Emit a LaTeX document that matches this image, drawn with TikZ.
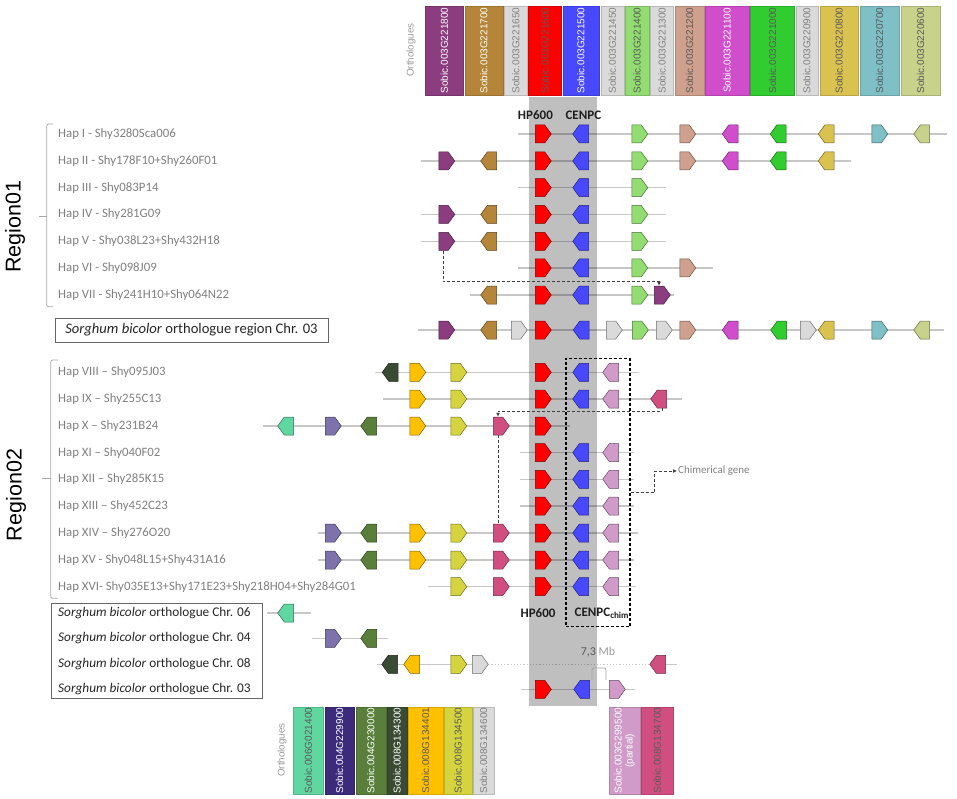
\documentclass[tikz,border=0pt]{standalone}
\usepackage{fontspec}
\setmainfont{Carlito}
\newfontfamily\arialf{Liberation Sans}
\usetikzlibrary{shapes.symbols,arrows.meta}
\definecolor{cPu}{HTML}{8B3D80}
\definecolor{cBr}{HTML}{B5853A}
\definecolor{cGy}{HTML}{DADADA}
\definecolor{cRd}{HTML}{FF0000}
\definecolor{cBl}{HTML}{4848FF}
\definecolor{cLg}{HTML}{93DC72}
\definecolor{cTn}{HTML}{CFA08D}
\definecolor{cMg}{HTML}{D04ECC}
\definecolor{cGn}{HTML}{30CC30}
\definecolor{cGd}{HTML}{DAC250}
\definecolor{cTl}{HTML}{7FBFC6}
\definecolor{cKh}{HTML}{C9D28A}
\definecolor{cMint}{HTML}{60D6A0}
\definecolor{cLav}{HTML}{7E72AC}
\definecolor{cLavLeg}{HTML}{3B2B7A}
\definecolor{cGf}{HTML}{5A7F3A}
\definecolor{cDkg}{HTML}{3A4B33}
\definecolor{cOr}{HTML}{FFC000}
\definecolor{cYg}{HTML}{D6D43E}
\definecolor{cPk}{HTML}{D09BC8}
\definecolor{cDp}{HTML}{D14F80}
\definecolor{cCol}{HTML}{BFBFBF}
\definecolor{txtD}{HTML}{5A5A5A}
\definecolor{txtG}{HTML}{808080}
\newcommand\gR[4]{\node[gene,signal to=east,fill=#1,draw=#1!50!black] (#2) at (#3,#4) {};}
\newcommand\gL[4]{\node[gene,signal to=west,fill=#1,draw=#1!50!black] (#2) at (#3,#4) {};}
\newcommand\legA{6}
\newcommand\legB{95}
\newcommand\leg[6]{\filldraw[fill=#4,draw=#4!85!black,line width=0.3pt] (#2,\legA) rectangle (#3,\legB);
  \node[legtxt,text=#5] (#1) at ({(#2+#3)/2},{(\legA+\legB)/2}) {#6};}
\begin{document}
\begin{tikzpicture}[x=1pt,y=-1pt,
  gene/.style={signal, signal pointer angle=108, minimum width=16pt, minimum height=18pt, inner sep=0pt, line width=0.5pt},
  bg/.style={line width=1.5pt, black, opacity=0.22},
  legtxt/.style={rotate=90, font=\arialf\fontsize{10}{11}\selectfont, inner sep=0pt, align=center},
  hap/.style={anchor=west, inner sep=0pt, text=txtG, font=\fontsize{12.8}{14}\selectfont},
  chrlab/.style={anchor=west, inner sep=0pt, text=black!85, font=\fontsize{13.3}{15}\selectfont},
  brk/.style={draw=black!35, line width=0.8pt, rounded corners=2pt},
  conn/.style={draw=black!75, line width=0.9pt, dash pattern=on 3pt off 2pt},
  tip/.style={-{Latex[length=4pt,width=4pt]}},
  hplab/.style={font=\bfseries\fontsize{13}{15}\selectfont, text=black!88, inner sep=0pt},
  reg/.style={rotate=90, font=\arialf\fontsize{21.5}{24}\selectfont, inner sep=0pt}]
\useasboundingbox (0,0) rectangle (957,799);
% ---------- shaded HP600/CENPC column ----------
\fill[cCol] (529,97) rectangle (597,706);
% ---------- top legend ----------
\node[rotate=90, font=\arialf\fontsize{9.8}{11}\selectfont, text=black!40, inner sep=0pt] (orthT) at (411,50) {Orthologues};
\leg{lt1}{425.6}{462.9}{cPu}{white}{Sobic.003G221800}
\leg{lt2}{464.7}{502.7}{cBr}{white}{Sobic.003G221700}
\leg{lt3}{504.1}{527.5}{cGy}{txtG}{Sobic.003G221650}
\leg{lt4}{528.6}{561.6}{cRd}{txtD}{Sobic.003G221600}
\leg{lt5}{562.7}{598.9}{cBl}{white}{Sobic.003G221500}
\leg{lt6}{600.7}{623.8}{cGy}{txtG}{Sobic.003G221450}
\leg{lt7}{625.2}{648.7}{cLg}{txtD}{Sobic.003G221400}
\leg{lt8}{650.4}{673.5}{cGy}{txtG}{Sobic.003G221300}
\leg{lt9}{675.3}{703.7}{cTn}{txtD}{Sobic.003G221200}
\leg{lt10}{705.5}{748.8}{cMg}{white}{Sobic.003G221100}
\leg{lt11}{750.6}{794.3}{cGn}{txtD}{Sobic.003G221000}
\leg{lt12}{795.7}{818.1}{cGy}{txtG}{Sobic.003G220900}
\leg{lt13}{819.9}{858.3}{cGd}{txtD}{Sobic.003G220800}
\leg{lt14}{860}{899.1}{cTl}{txtD}{Sobic.003G220700}
\leg{lt15}{900.9}{940}{cKh}{txtD}{Sobic.003G220600}
% ---------- bottom legend ----------
\renewcommand\legA{707.3}
\renewcommand\legB{794}
\node[rotate=90, font=\arialf\fontsize{9.8}{11}\selectfont, text=black!40, inner sep=0pt] (orthB) at (282,750) {Orthologues};
\leg{lb1}{293.3}{323.3}{cMint}{txtD}{Sobic.006G021400}
\leg{lb2}{325}{354.3}{cLavLeg}{white}{Sobic.004G229900}
\leg{lb3}{356}{385.7}{cGf}{white}{Sobic.004G230000}
\leg{lb4}{387.3}{406.7}{cDkg}{white}{Sobic.008G134300}
\leg{lb5}{408.3}{442.7}{cOr}{txtD}{Sobic.008G134401}
\leg{lb6}{444.3}{471.7}{cYg}{txtD}{Sobic.008G134500}
\leg{lb7}{473.3}{494}{cGy}{txtG}{Sobic.008G134600}
\leg{lb8}{609}{640}{cPk}{white}{Sobic.003G299500\\(partial)}
\leg{lb9}{641.3}{673.3}{cDp}{txtD}{Sobic.008G134700}
% ---------- backbone lines ----------
\draw[bg] (518,134) -- (947,134);
\draw[bg] (421,161) -- (851,161);
\draw[bg] (518,187.7) -- (666,187.7);
\draw[bg] (421,214.5) -- (666,214.5);
\draw[bg] (421,241.3) -- (666,241.3);
\draw[bg] (518,268) -- (713,268);
\draw[bg] (470,295) -- (674,295);
\draw[bg] (418,330) -- (944,330);
\draw[bg] (375,372.3) -- (639,372.3);
\draw[bg] (383,399) -- (682,399);
\draw[bg] (263,426) -- (570,426);
\draw[bg] (520,452.7) -- (634,452.7);
\draw[bg] (520,479.3) -- (634,479.3);
\draw[bg] (520,506) -- (634,506);
\draw[bg] (318,533) -- (638,533);
\draw[bg] (318,560) -- (634,560);
\draw[bg] (428,586.7) -- (636,586.7);
\draw[bg] (267,613) -- (311,613);
\draw[bg] (312,638.3) -- (388,638.3);
\draw[bg] (377,664.3) -- (485,664.3);
\draw[bg, line width=1.2pt, dash pattern=on 1.2pt off 2pt] (485,664.3) -- (653,664.3);
\draw[bg] (653,664.3) -- (677,664.3);
\draw[bg] (521,689.3) -- (635,689.3);
% ---------- Region01 genes ----------
% Hap I
\gR{cRd}{a1rd}{540}{134}\gL{cBl}{a1bl}{584}{134}\gR{cLg}{a1lg}{636.5}{134}\gR{cTn}{a1tn}{684.5}{134}
\gL{cMg}{a1mg}{733.5}{134}\gL{cGn}{a1gn}{781.5}{134}\gL{cGd}{a1gd}{829.5}{134}\gR{cTl}{a1tl}{876.5}{134}\gL{cKh}{a1kh}{925}{134}
% Hap II
\gR{cPu}{a2pu}{443.5}{161}\gL{cBr}{a2br}{492}{161}\gR{cRd}{a2rd}{540}{161}\gL{cBl}{a2bl}{584}{161}\gR{cLg}{a2lg}{636.5}{161}
\gR{cTn}{a2tn}{684.5}{161}\gL{cMg}{a2mg}{733.5}{161}\gL{cGn}{a2gn}{781.5}{161}\gL{cGd}{a2gd}{829.5}{161}
% Hap III
\gR{cRd}{a3rd}{540}{187.7}\gL{cBl}{a3bl}{584}{187.7}\gR{cLg}{a3lg}{636.5}{187.7}
% Hap IV
\gR{cPu}{a4pu}{443.5}{214.5}\gL{cBr}{a4br}{492}{214.5}\gR{cRd}{a4rd}{540}{214.5}\gL{cBl}{a4bl}{584}{214.5}\gR{cLg}{a4lg}{636.5}{214.5}
% Hap V
\gR{cPu}{a5pu}{443.5}{241.3}\gL{cBr}{a5br}{492}{241.3}\gR{cRd}{a5rd}{540}{241.3}\gL{cBl}{a5bl}{584}{241.3}\gR{cLg}{a5lg}{636.5}{241.3}
% Hap VI
\gR{cRd}{a6rd}{540}{268}\gL{cBl}{a6bl}{584}{268}\gR{cLg}{a6lg}{636.5}{268}\gR{cTn}{a6tn}{684.5}{268}
% Hap VII
\gL{cBr}{a7br}{492}{295}\gR{cRd}{a7rd}{540}{295}\gL{cBl}{a7bl}{584}{295}\gR{cLg}{a7lg}{636.5}{295}\gR{cPu}{a7pu}{659}{295}
% Chr03 region
\gR{cPu}{a8pu}{443.5}{330}\gL{cBr}{a8br}{492}{330}\gR{cGy}{a8g1}{516}{330}\gR{cRd}{a8rd}{540}{330}\gL{cBl}{a8bl}{584.5}{330}
\gR{cGy}{a8g2}{611}{330}\gR{cLg}{a8lg}{637}{330}\gR{cGy}{a8g3}{661}{330}\gR{cTn}{a8tn}{684.5}{330}\gL{cMg}{a8mg}{733.5}{330}
\gL{cGn}{a8gn}{782}{330}\gR{cGy}{a8g4}{805}{330}\gL{cGd}{a8gd}{829.5}{330}\gR{cTl}{a8tl}{876.5}{330}\gL{cKh}{a8kh}{925}{330}
% ---------- Region02 genes ----------
% VIII
\gL{cDkg}{b8dk}{393.5}{372.3}\gR{cOr}{b8or}{414.5}{372.3}\gR{cYg}{b8yg}{455.5}{372.3}\gR{cRd}{b8rd}{540}{372.3}\gL{cBl}{b8bl}{584}{372.3}\gL{cPk}{b8pk}{614}{372.3}
% IX
\gR{cOr}{b9or}{414.5}{399}\gR{cYg}{b9yg}{455.5}{399}\gR{cRd}{b9rd}{540}{399}\gL{cBl}{b9bl}{584}{399}\gL{cPk}{b9pk}{614}{399}\gL{cDp}{b9dp}{662}{399}
% X
\gL{cMint}{b10mt}{289}{426}\gR{cLav}{b10lv}{330}{426}\gL{cGf}{b10gf}{372}{426}\gR{cOr}{b10or}{414.5}{426}\gR{cYg}{b10yg}{455.5}{426}\gR{cDp}{b10dp}{498}{426}\gR{cRd}{b10rd}{540}{426}
% XI-XIII
\gR{cRd}{b11rd}{540}{452.7}\gL{cBl}{b11bl}{584}{452.7}\gL{cPk}{b11pk}{614}{452.7}
\gR{cRd}{b12rd}{540}{479.3}\gL{cBl}{b12bl}{584}{479.3}\gL{cPk}{b12pk}{614}{479.3}
\gR{cRd}{b13rd}{540}{506}\gL{cBl}{b13bl}{584}{506}\gL{cPk}{b13pk}{614}{506}
% XIV
\gR{cLav}{b14lv}{330}{533}\gL{cGf}{b14gf}{372}{533}\gR{cOr}{b14or}{414.5}{533}\gR{cYg}{b14yg}{455.5}{533}\gR{cDp}{b14dp}{498}{533}\gR{cRd}{b14rd}{540}{533}\gL{cBl}{b14bl}{584}{533}\gL{cPk}{b14pk}{614}{533}
% XV
\gR{cLav}{b15lv}{330}{560}\gL{cGf}{b15gf}{372}{560}\gR{cOr}{b15or}{414.5}{560}\gR{cYg}{b15yg}{455.5}{560}\gR{cDp}{b15dp}{498}{560}\gR{cRd}{b15rd}{540}{560}\gL{cBl}{b15bl}{584}{560}\gL{cPk}{b15pk}{614}{560}
% XVI
\gR{cYg}{b16yg}{455.5}{586.7}\gR{cDp}{b16dp}{498}{586.7}\gR{cRd}{b16rd}{540}{586.7}\gL{cBl}{b16bl}{584}{586.7}\gL{cPk}{b16pk}{614}{586.7}
% Sorghum chromosomes
\gL{cMint}{c6mt}{289}{613}
\gR{cLav}{c4lv}{330}{638.3}\gL{cGf}{c4gf}{372}{638.3}
\gL{cDkg}{c8dk}{393}{664.3}\gL{cOr}{c8or}{415}{664.3}\gR{cYg}{c8yg}{455.5}{664.3}\gR{cGy}{c8gy}{477}{664.3}\gL{cDp}{c8dp}{661}{664.3}
\gR{cRd}{c3rd}{540}{689.3}\gL{cBl}{c3bl}{585}{689.3}\gR{cPk}{c3pk}{614}{689.3}
% ---------- labels HP600 / CENPC ----------
\node[hplab] (hpT) at (535.4,115) {HP600};
\node[hplab] (cenT) at (583.4,115) {CENPC};
\node[hplab] (hpB) at (538,613) {HP600};
\node[hplab, anchor=west] (cenB) at (574.5,613) {CENPC\textsubscript{chim}};
% 7,3 Mb
\node[inner sep=0pt, font=\fontsize{12}{14}\selectfont] (mb) at (598,652) {\textcolor{black!65}{7,3} \textcolor{black!40}{Mb}};
\draw[black!35, line width=0.8pt, rounded corners=2pt] (592,680) -- (592,668) -- (606,668) -- (606,680);
% ---------- chimerical box ----------
\node[draw=black, line width=1.1pt, dash pattern=on 3pt off 2pt, minimum width=64pt, minimum height=268.4pt, inner sep=0pt] (chim) at (598,492.5) {};
\node[anchor=west, inner sep=1pt, text=txtG, font=\fontsize{11}{13}\selectfont] (chimlbl) at (677,471) {Chimerical gene};
\draw[conn, tip] (chim.east) -- ++(24,0) |- (chimlbl.west);
% ---------- dashed connectors ----------
\draw[conn, tip] (a5pu.south) -- ++(0,31.3) -| (a7pu.north);
\draw[conn, tip] (b9dp.south) -- ++(0,3) -| (b10dp.north);
\draw[conn] (b10dp.south) -- (b14dp.north);
% ---------- row labels ----------
\node[hap] (h1) at (58,134) {Hap I - Shy3280Sca006};
\node[hap] (h2) at (58,161) {Hap II - Shy178F10+Shy260F01};
\node[hap] (h3) at (58,187.7) {Hap III - Shy083P14};
\node[hap] (h4) at (58,214.5) {Hap IV - Shy281G09};
\node[hap] (h5) at (58,241.3) {Hap V - Shy038L23+Shy432H18};
\node[hap] (h6) at (58,268) {Hap VI - Shy098J09};
\node[hap] (h7) at (58,295) {Hap VII - Shy241H10+Shy064N22};
\node[draw=black!60, line width=0.6pt, minimum width=273pt, minimum height=24pt, inner sep=0pt, text=black!85, font=\fontsize{14.6}{16}\selectfont] (box1) at (191.5,330) {\textit{Sorghum bicolor} orthologue region Chr. 03};
\node[hap] (h8) at (58,372.3) {Hap VIII – Shy095J03};
\node[hap] (h9) at (58,399) {Hap IX – Shy255C13};
\node[hap] (h10) at (58,426) {Hap X – Shy231B24};
\node[hap] (h11) at (58,452.7) {Hap XI – Shy040F02};
\node[hap] (h12) at (58,479.3) {Hap XII – Shy285K15};
\node[hap] (h13) at (58,506) {Hap XIII – Shy452C23};
\node[hap] (h14) at (58,533) {Hap XIV – Shy276O20};
\node[hap] (h15) at (58,560) {Hap XV - Shy048L15+Shy431A16};
\node[hap] (h16) at (58,586.7) {Hap XVI- Shy035E13+Shy171E23+Shy218H04+Shy284G01};
\draw[draw=black!60, line width=0.6pt] (51.7,603.3) rectangle (262.7,698.3);
\node[chrlab] (s6) at (58,613) {\textit{Sorghum bicolor} orthologue Chr. 06};
\node[chrlab] (s4) at (58,638.3) {\textit{Sorghum bicolor} orthologue Chr. 04};
\node[chrlab] (s8) at (58,664.3) {\textit{Sorghum bicolor} orthologue Chr. 08};
\node[chrlab] (s3) at (58,689.3) {\textit{Sorghum bicolor} orthologue Chr. 03};
% ---------- brackets & region titles ----------
\draw[brk] (53.3,124) -- (46.7,124) -- (46.7,306.7) -- (53.3,306.7);
\draw[brk] (46.7,216) -- (39.3,216);
\draw[brk] (58,360) -- (50.7,360) -- (50.7,598.3) -- (58,598.3);
\draw[brk] (50.7,478.3) -- (41.7,478.3);
\node[reg] (r1) at (15,226.7) {Region01};
\node[reg] (r2) at (16,495) {Region02};
\end{tikzpicture}
\end{document}
